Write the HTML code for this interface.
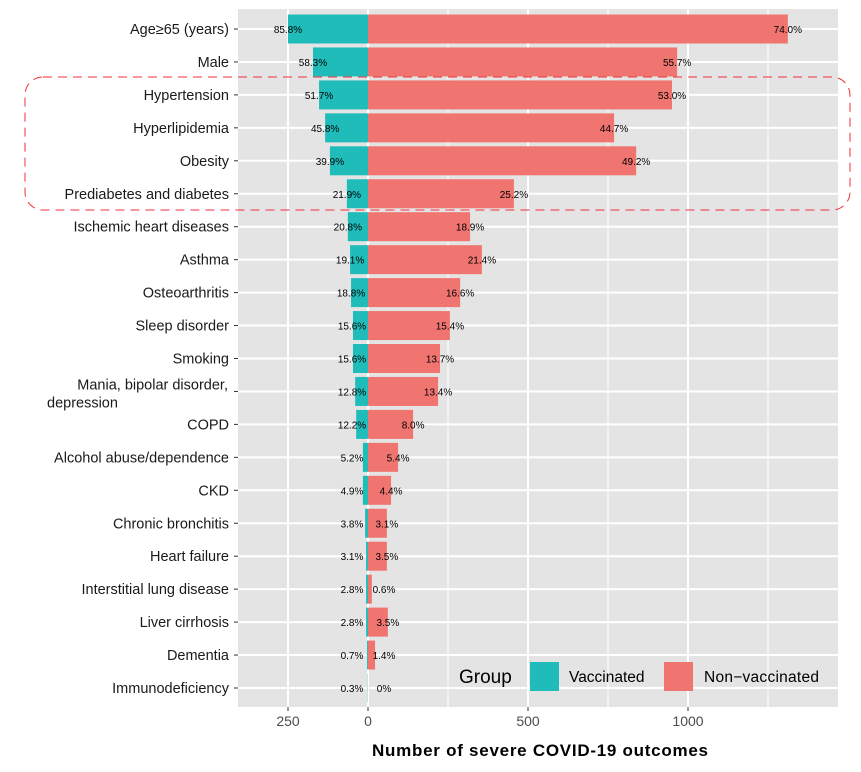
<!DOCTYPE html>
<html><head><meta charset="utf-8"><style>
body{margin:0;background:#fff;}
svg text{font-family:"Liberation Sans",Arial,sans-serif;}
</style></head><body>
<svg id="chart" width="861" height="767" xmlns="http://www.w3.org/2000/svg">
<rect x="238" y="9" width="600" height="698" fill="#e4e4e4"/>
<g id="grid"></g><g id="bars"></g><g id="labels"></g><g id="axes"></g>
<text x="540" y="756" text-anchor="middle" font-size="17" font-weight="bold" fill="#000" textLength="336">Number of severe COVID-19 outcomes</text>
<g>
<text x="459" y="683" font-size="19" fill="#000">Group</text>
<rect x="530" y="662" width="29" height="29" fill="#20bcba"/>
<text x="569" y="682" font-size="15.5" fill="#000">Vaccinated</text>
<rect x="664" y="662" width="29" height="29" fill="#f07570"/>
<text x="704" y="682" font-size="15.5" fill="#000" textLength="115">Non−vaccinated</text>
</g>
<rect x="25" y="77" width="825" height="133" rx="18" fill="none" stroke="#f0303a" stroke-width="1" stroke-dasharray="9,6"/>
</svg>
<script>
const categories=["Age≥65 (years)","Male","Hypertension","Hyperlipidemia","Obesity","Prediabetes and diabetes","Ischemic heart diseases","Asthma","Osteoarthritis","Sleep disorder","Smoking ","Mania, bipolar disorder,|depression","COPD","Alcohol abuse/dependence","CKD","Chronic bronchitis","Heart failure","Interstitial lung disease","Liver cirrhosis","Dementia","Immunodeficiency"];
const vaccinated=[250,172,153,134,119,66,63,56,53,47,47,40,37,16,16,9,6,6,6,3,1];
const nonVaccinated=[1312,966,950,769,838,456,319,356,288,256,225,219,141,94,72,59,59,12,62,22,0];
const vaccLabels=["85.8%","58.3%","51.7%","45.8%","39.9%","21.9%","20.8%","19.1%","18.8%","15.6%","15.6%","12.8%","12.2%","5.2%","4.9%","3.8%","3.1%","2.8%","2.8%","0.7%","0.3%"];
const nonVaccLabels=["74.0%","55.7%","53.0%","44.7%","49.2%","25.2%","18.9%","21.4%","16.6%","15.4%","13.7%","13.4%","8.0%","5.4%","4.4%","3.1%","3.5%","0.6%","3.5%","1.4%","0%"];
const xTicks=[-250,0,500,1000];
const xTickLabels=["250","0","500","1000"];
const xMinor=[250,750,1250];
const NS="http://www.w3.org/2000/svg";
const x=v=>368+v*0.32;
const y=i=>29+i*32.95;
function mk(tag,attrs,parent,txt){const e=document.createElementNS(NS,tag);for(const k in attrs)e.setAttribute(k,attrs[k]);if(txt!==undefined)e.textContent=txt;document.getElementById(parent).appendChild(e);return e;}
xMinor.forEach(v=>{const l=mk('line',{x1:x(v),x2:x(v),y1:9,y2:707,stroke:'#fff','stroke-width':1},'grid');

});
xTicks.forEach((v,i)=>{const l=mk('line',{x1:x(v),x2:x(v),y1:9,y2:707,stroke:'#fff','stroke-width':2},'grid');


const t=mk('line',{x1:x(v),x2:x(v),y1:707,y2:711,stroke:'#333'},'axes');


const tl=mk('text',{x:x(v),y:726,'text-anchor':'middle','font-size':14,fill:'#4d4d4d'},'axes',xTickLabels[i]);

});
categories.forEach((c,i)=>{const yy=y(i);
const g=mk('line',{x1:238,x2:838,y1:yy,y2:yy,stroke:'#fff','stroke-width':2},'grid');


const bv=mk('rect',{x:x(-vaccinated[i]),y:yy-14.5,width:vaccinated[i]*0.32,height:29,fill:'#20bcba'},'bars');


const bn=mk('rect',{x:x(0),y:yy-14.5,width:nonVaccinated[i]*0.32,height:29,fill:'#f07570'},'bars');


const lv=mk('text',{x:Math.min(x(-vaccinated[i]),352),y:yy+4,'text-anchor':'middle','font-size':10,fill:'#000'},'labels',vaccLabels[i]);


const ln=mk('text',{x:Math.max(x(nonVaccinated[i]),384),y:yy+4,'text-anchor':'middle','font-size':10,fill:'#000'},'labels',nonVaccLabels[i]);


const tk=mk('line',{x1:234,x2:238,y1:yy,y2:yy,stroke:'#333'},'axes');


const parts=c.split('|');
const t=mk('text',{x:parts.length>1?47:229,y:yy+5,'text-anchor':parts.length>1?'start':'end','font-size':14.5,fill:'#1a1a1a'},'axes');


if(parts.length>1){t.textContent='';const s1=document.createElementNS(NS,'tspan');s1.setAttribute('x',228);s1.setAttribute('text-anchor','end');s1.textContent=parts[0];t.appendChild(s1);
const s2=document.createElementNS(NS,'tspan');s2.setAttribute('x',47);s2.setAttribute('dy',18);s2.textContent=parts[1];t.appendChild(s2);t.setAttribute('y',yy-2);}
else t.textContent=c;});
</script>
</body></html>
